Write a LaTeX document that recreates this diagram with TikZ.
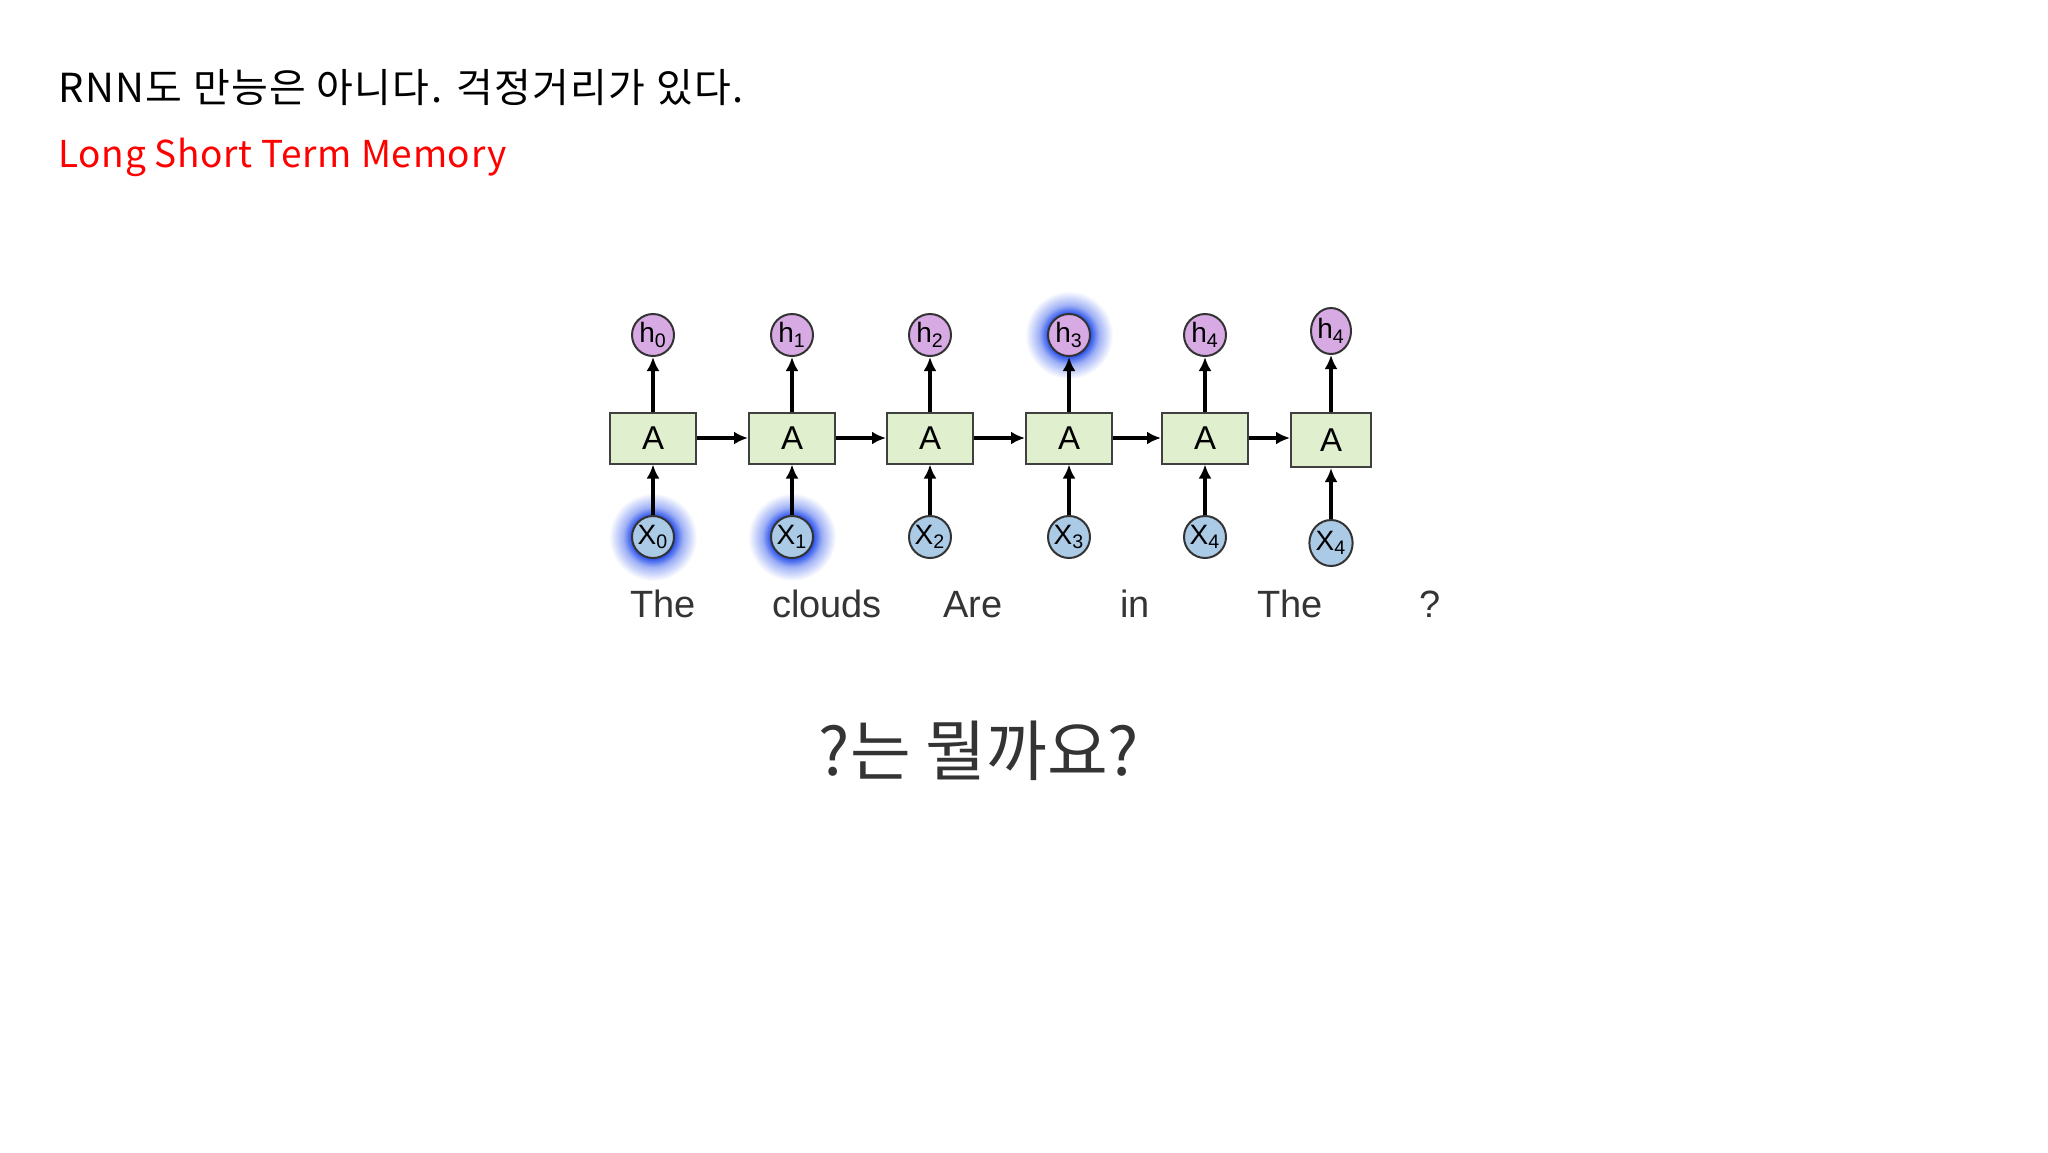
\documentclass[tikz,border=0pt]{standalone}
\usepackage{fontspec}
\usepackage{xcolor}
\usepackage{tikz}
\usetikzlibrary{arrows.meta, positioning, shapes.geometric}
\setmainfont{Liberation Sans}
\newfontfamily\krfont{Noto Sans CJK KR}
\definecolor{cellgreen}{RGB}{224,239,206}
\definecolor{hpurple}{RGB}{216,170,228}
\definecolor{xblue}{RGB}{170,202,230}
\definecolor{glowblue}{RGB}{40,80,235}
\definecolor{wordgray}{RGB}{52,52,52}
\pgfdeclareradialshading{glow}{\pgfpoint{0bp}{0bp}}{color(0bp)=(glowblue); color(12bp)=(glowblue); color(17bp)=(glowblue!45); color(25bp)=(white); color(50bp)=(white)}

\begin{document}
\begin{tikzpicture}[x=0.5pt, y=-0.5pt,
    cell/.style={draw=black!75, fill=cellgreen, line width=1pt, minimum width=43pt, minimum height=25.5pt, inner sep=0pt, font=\fontsize{16.5}{16.5}\selectfont},
    hstate/.style={circle, draw=black!80, fill=hpurple, line width=1pt, minimum size=21pt, inner sep=0pt, font=\fontsize{14}{14}\selectfont},
    xin/.style={circle, draw=black!80, fill=xblue, line width=1pt, minimum size=21pt, inner sep=0pt, font=\fontsize{14}{14}\selectfont},
    word/.style={anchor=base, text=wordgray, font=\fontsize{19}{19}\selectfont},
    flow/.style={line width=1.6pt, -{Latex[length=7pt, width=6.5pt]}}]
    \useasboundingbox (0,0) rectangle (2048,1152);

    % heading
    \node[anchor=base west, inner sep=0pt, font=\krfont\addfontfeature{LetterSpace=3.5}\fontsize{20}{20}\selectfont] (title) at (58,102) {RNN도 만능은 아니다. 걱정거리가 있다.};
    \node[anchor=base west, inner sep=0pt, text=red, font=\krfont\addfontfeature{LetterSpace=1.8}\fontsize{18.5}{18.5}\selectfont] (lstm) at (58,167) {Long Short Term Memory};

    % glow behind the highlighted states
    \shade[shading=glow] (653,537) circle (22pt);
    \shade[shading=glow] (792,537) circle (22pt);
    \shade[shading=glow] (1069,335) circle (22pt);

    % unrolled cells
    \node[cell] (a0) at (653,438) {A};
    \node[cell] (a1) at (792,438) {A};
    \node[cell] (a2) at (930,438) {A};
    \node[cell] (a3) at (1069,438) {A};
    \node[cell] (a4) at (1205,438) {A};
    \node[cell, minimum width=40pt, minimum height=27pt] (a5) at (1331,440) {A};

    % outputs
    \node[hstate] (h0) at (653,335) {h\textsubscript{0}};
    \node[hstate] (h1) at (792,335) {h\textsubscript{1}};
    \node[hstate] (h2) at (930,335) {h\textsubscript{2}};
    \node[hstate] (h3) at (1069,335) {h\textsubscript{3}};
    \node[hstate] (h4) at (1205,335) {h\textsubscript{4}};
    \node[hstate, ellipse, minimum width=20pt, minimum height=23pt] (h5) at (1331,331) {h\textsubscript{4}};

    % inputs
    \node[xin] (x0) at (653,537) {X\textsubscript{0}};
    \node[xin] (x1) at (792,537) {X\textsubscript{1}};
    \node[xin] (x2) at (930,537) {X\textsubscript{2}};
    \node[xin] (x3) at (1069,537) {X\textsubscript{3}};
    \node[xin] (x4) at (1205,537) {X\textsubscript{4}};
    \node[xin, ellipse, minimum width=20pt, minimum height=23pt] (x5) at (1331,543) {X\textsubscript{4}};

    % arrows
    \draw[flow] (x0) -- (a0);
    \draw[flow] (x1) -- (a1);
    \draw[flow] (x2) -- (a2);
    \draw[flow] (x3) -- (a3);
    \draw[flow] (x4) -- (a4);
    \draw[flow] (x5) -- (a5);
    \draw[flow] (a0) -- (h0);
    \draw[flow] (a1) -- (h1);
    \draw[flow] (a2) -- (h2);
    \draw[flow] (a3) -- (h3);
    \draw[flow] (a4) -- (h4);
    \draw[flow] (a5) -- (h5);
    \draw[flow] (a0) -- (a1);
    \draw[flow] (a1) -- (a2);
    \draw[flow] (a2) -- (a3);
    \draw[flow] (a3) -- (a4);
    \draw[flow] (a4.east) -- (a5.west |- a4.east);

    % sentence
    \node[word] (w0) at (663,617) {The};
    \node[word] (w1) at (827,617) {clouds};
    \node[word] (w2) at (973,617) {Are};
    \node[word] (w3) at (1135,617) {in};
    \node[word] (w4) at (1290,617) {The};
    \node[word] (w5) at (1430,617) {?};

    \node[anchor=base, inner sep=0pt, text=wordgray, font=\krfont\fontsize{33}{33}\selectfont] (quiz) at (979,775) {?는 뭘까요?};
\end{tikzpicture}
\end{document}
